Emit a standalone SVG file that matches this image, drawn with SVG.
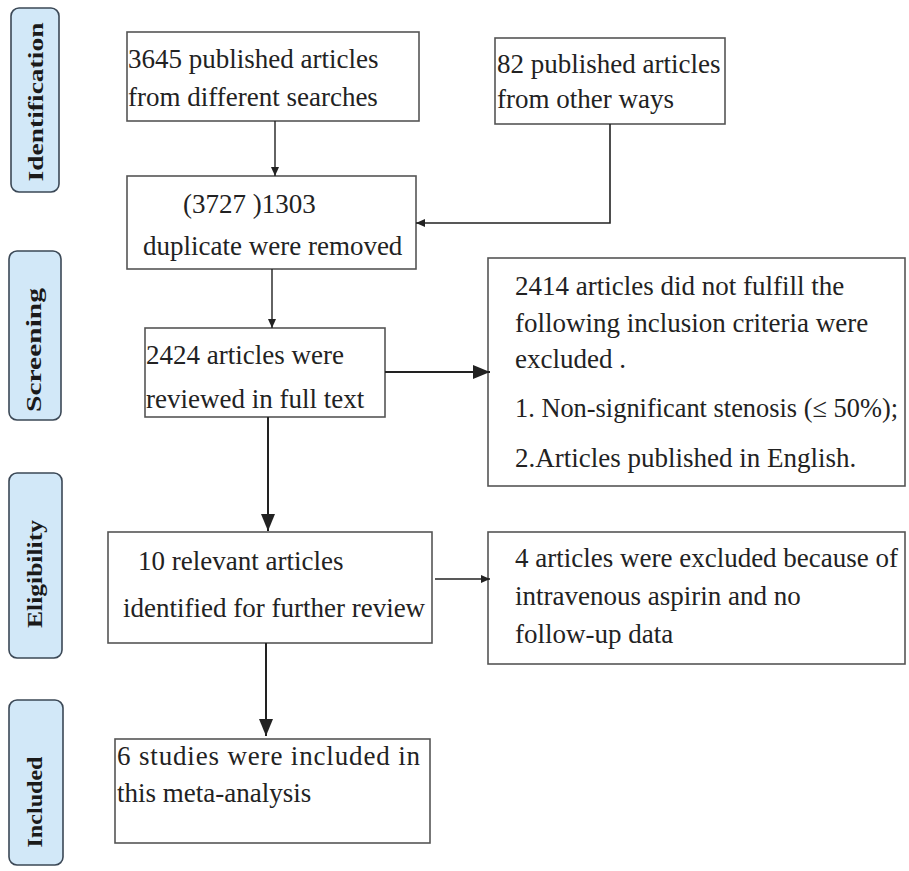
<svg xmlns="http://www.w3.org/2000/svg" width="909" height="871" viewBox="0 0 909 871">
<defs>
<marker id="sm" markerWidth="9" markerHeight="9" refX="9" refY="4.5" orient="auto" markerUnits="userSpaceOnUse">
<path d="M0,0.5 L9,4.5 L0,8.5 Z" fill="#222"/>
</marker>
<marker id="lg" markerWidth="17" markerHeight="14" refX="17" refY="7" orient="auto" markerUnits="userSpaceOnUse">
<path d="M0,0 L17,7 L0,14 Z" fill="#222"/>
</marker>
</defs>
<style>
.stage rect{fill:#d2e8f8;stroke:#3b4856;stroke-width:1.6}
.stage text{font-family:'Liberation Serif','DejaVu Serif',serif;font-weight:bold;font-size:22px;fill:#1a1a1a}
.box rect{fill:#fff;stroke:#555;stroke-width:1.6}
.box text{font-family:'Liberation Serif','DejaVu Serif',serif;font-size:27px;fill:#222}
.c{stroke:#222;fill:none}
</style>
<rect width="909" height="871" fill="#fff"/>
<g id="stage-identification" class="stage">
<rect x="11" y="8" width="48" height="184" rx="8"/>
<text transform="translate(43,102) rotate(-90)" text-anchor="middle" textLength="159" lengthAdjust="spacingAndGlyphs">Identification</text>
</g>
<g id="stage-screening" class="stage">
<rect x="9" y="251" width="52" height="169" rx="8"/>
<text transform="translate(41,350) rotate(-90)" text-anchor="middle" textLength="124" lengthAdjust="spacingAndGlyphs">Screening</text>
</g>
<g id="stage-eligibility" class="stage">
<rect x="9" y="473" width="53" height="185" rx="8"/>
<text transform="translate(42,574) rotate(-90)" text-anchor="middle" textLength="108" lengthAdjust="spacingAndGlyphs">Eligibility</text>
</g>
<g id="stage-included" class="stage">
<rect x="9" y="700" width="54" height="165" rx="8"/>
<text transform="translate(42,802) rotate(-90)" text-anchor="middle" textLength="91" lengthAdjust="spacingAndGlyphs">Included</text>
</g>
<g id="n1" class="box">
<rect x="127" y="32" width="292" height="89"/>
<text x="128" y="68">3645 published articles</text>
<text x="128" y="106">from different searches</text>
</g>
<g id="n2" class="box">
<rect x="495" y="38" width="230" height="86"/>
<text x="497" y="73">82 published articles</text>
<text x="497" y="108">from other ways</text>
</g>
<g id="n3" class="box">
<rect x="127" y="176" width="289" height="93"/>
<text x="183" y="213">(3727 )1303</text>
<text x="143" y="255">duplicate were removed</text>
</g>
<g id="n4" class="box">
<rect x="145" y="328" width="240" height="89"/>
<text x="146" y="364">2424 articles were</text>
<text x="146" y="408">reviewed in full text</text>
</g>
<g id="n5" class="box">
<rect x="488" y="258" width="417" height="228"/>
<text x="515" y="295">2414 articles did not fulfill the</text>
<text x="515" y="332">following inclusion criteria were</text>
<text x="515" y="368">excluded .</text>
<text x="515" y="417" textLength="383" lengthAdjust="spacingAndGlyphs">1.  Non-significant stenosis (≤ 50%);</text>
<text x="515" y="467">2.Articles published in English.</text>
</g>
<g id="n6" class="box">
<rect x="108" y="532" width="324" height="111"/>
<text x="138" y="570">10 relevant articles</text>
<text x="123" y="617">identified for further review</text>
</g>
<g id="n7" class="box">
<rect x="488" y="532" width="417" height="132"/>
<text x="515" y="567">4 articles were excluded because of</text>
<text x="515" y="605">intravenous aspirin and no</text>
<text x="515" y="643">follow-up data</text>
</g>
<g id="n8" class="box">
<rect x="115" y="739" width="315" height="104"/>
<text x="117" y="765" textLength="303" lengthAdjust="spacing">6 studies were included in</text>
<text x="117" y="802">this meta-analysis</text>
</g>
<g id="connectors">
<line class="c" x1="275" y1="121" x2="275" y2="176" stroke-width="1.4" marker-end="url(#sm)"/>
<polyline class="c" points="610,124 610,223 416,223" stroke-width="1.6" marker-end="url(#sm)"/>
<line class="c" x1="272" y1="269" x2="272" y2="328" stroke-width="1.4" marker-end="url(#sm)"/>
<line class="c" x1="385" y1="372" x2="490" y2="372" stroke-width="2" marker-end="url(#lg)"/>
<line class="c" x1="268" y1="417" x2="268" y2="531" stroke-width="2" marker-end="url(#lg)"/>
<line class="c" x1="435" y1="579" x2="490" y2="579" stroke-width="1.4" marker-end="url(#sm)"/>
<line class="c" x1="266" y1="643" x2="266" y2="736" stroke-width="2" marker-end="url(#lg)"/>
</g>
</svg>
